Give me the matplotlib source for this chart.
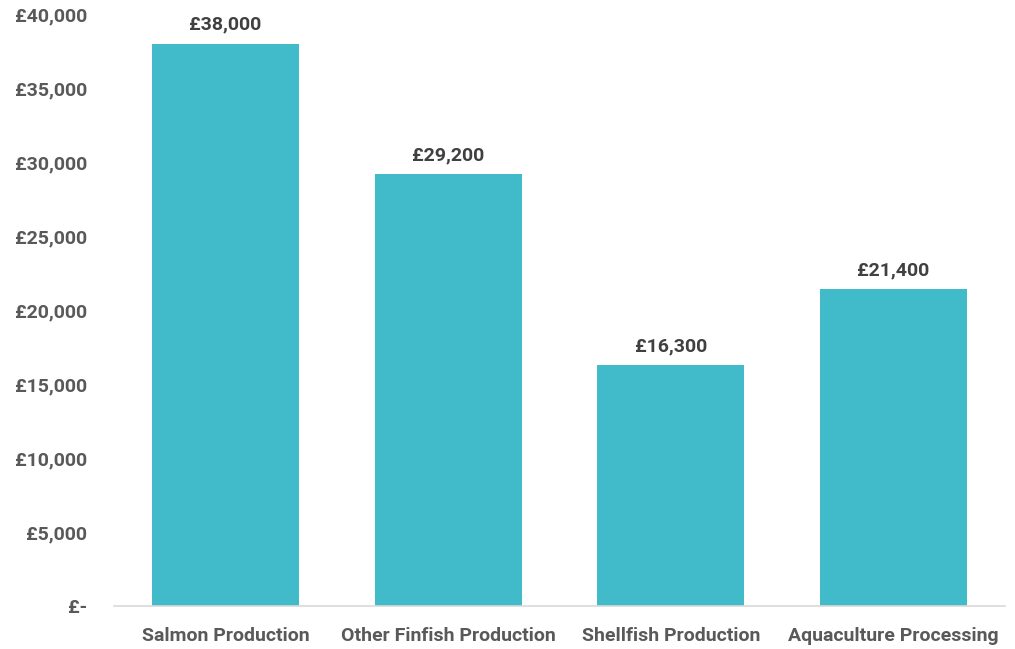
import matplotlib
matplotlib.use("Agg")
import matplotlib.pyplot as plt
from matplotlib.ticker import FuncFormatter

categories = ["Salmon Production", "Other Finfish Production", "Shellfish Production", "Aquaculture Processing"]
values = [38000, 29200, 16300, 21400]
yticks = [0, 5000, 10000, 15000, 20000, 25000, 30000, 35000, 40000]

plt.rcParams['font.family'] = ['Roboto', 'DejaVu Sans']

fig = plt.figure(figsize=(10.15, 6.49), dpi=100)
ax = fig.add_axes([0.1123, 0.0663, 0.8777, 0.9121])

x = list(range(len(categories)))
ax.bar(x, values, width=0.66, color="#41BAC9", zorder=2)
ax.set_xlim(-0.5, len(categories) - 0.5)
ax.set_ylim(0, 40000)
ax.set_yticks(yticks)
ax.yaxis.set_major_formatter(FuncFormatter(lambda v, p: "£-" if v == 0 else f"£{v:,.0f}"))
ax.set_xticks(x)
ax.set_xticklabels(categories)

for lbl in ax.get_yticklabels() + ax.get_xticklabels():
    lbl.set_fontweight("bold")
    lbl.set_color("#595959")
    lbl.set_fontsize(14)

ax.tick_params(axis="both", length=0)
ax.tick_params(axis="y", pad=19.5)
ax.tick_params(axis="x", pad=15.5)

for s in ["top", "right", "left"]:
    ax.spines[s].set_visible(False)
ax.spines["bottom"].set_color("#D9D9D9")
ax.spines["bottom"].set_linewidth(1.2)

for xi, v in zip(x, values):
    ax.annotate(f"£{v:,.0f}", (xi, v), xytext=(0, 7), textcoords="offset points",
                ha="center", va="bottom", fontsize=14, fontweight="bold", color="#404040")

fig.savefig("out.png", dpi=100)
